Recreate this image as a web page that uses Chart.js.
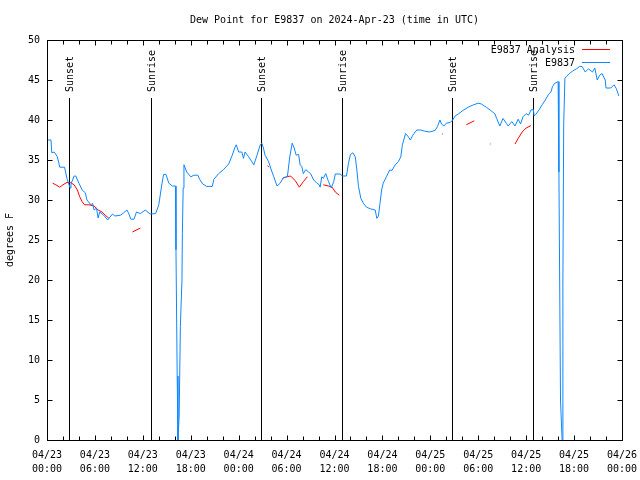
<!DOCTYPE html>
<html><head><meta charset="utf-8">
<script src="https://cdn.jsdelivr.net/npm/chart.js@4.4.1/dist/chart.umd.min.js"></script>
<style>html,body{margin:0;padding:0;background:#fff}#wrap{width:640px;height:480px}</style>
</head><body><div id="wrap"><canvas id="c" width="640" height="480"></canvas></div>
<script>
const titleText = 'Dew Point for E9837 on 2024-Apr-23 (time in UTC)';
const yTitle = 'degrees F';
const seriesNames = ['E9837 Analysis', 'E9837'];
const xTickDates = ['04/23','04/23','04/23','04/23','04/24','04/24','04/24','04/24','04/25','04/25','04/25','04/25','04/26'];
const xTickTimes = ['00:00','06:00','12:00','18:00','00:00','06:00','12:00','18:00','00:00','06:00','12:00','18:00','00:00'];
const yTicks = [0,5,10,15,20,25,30,35,40,45,50];
const eventHours = [2.75, 13.0, 26.75, 37.0, 50.75, 60.9];
const eventLabels = ['Sunset','Sunrise','Sunset','Sunrise','Sunset','Sunrise'];

const blueHours = [0.1,0.5,0.6,0.9,1.3,1.6,2.2,2.5,2.9,3.0,3.4,3.6,4.0,4.4,4.8,5.0,5.5,5.7,5.9,6.2,6.4,6.6,7.1,7.6,8.2,8.5,9.2,9.6,10.0,10.2,10.5,10.9,11.2,11.7,12.3,12.9,13.6,14.0,14.4,14.6,14.9,15.25,15.7,16.1,16.15,16.3,16.4,16.55,16.7,16.9,16.95,17.05,17.15,17.5,18.0,18.4,18.9,19.1,19.5,20.0,20.7,20.9,21.5,22.1,22.75,23.2,23.5,23.7,24.0,24.4,24.6,24.8,25.25,25.9,26.3,26.7,26.9,27.1,27.3,27.75,28.0,28.4,28.8,29.2,29.6,30.1,30.4,30.7,30.95,31.2,31.5,31.7,31.9,32.1,32.4,32.75,33.0,33.4,33.8,34.1,34.2,34.4,34.6,34.9,35.25,35.6,35.9,36.1,36.7,37.0,37.5,37.75,38.0,38.3,38.6,38.8,39.0,39.3,39.6,40.0,40.5,41.1,41.3,41.5,41.7,41.9,42.1,42.5,42.9,43.2,43.6,44.0,44.3,44.5,44.9,45.25,45.5,45.8,46.3,46.8,47.3,47.9,48.6,48.9,49.2,49.4,49.7,50.0,50.5,50.8,51.1,51.5,52.1,52.75,53.4,54.0,54.4,55.0,55.5,56.1,56.3,56.7,57.1,57.5,57.75,58.2,58.6,59.0,59.3,59.6,60.0,60.3,60.6,60.9,61.0,61.2,61.6,62.0,62.4,62.8,63.1,63.3,63.6,64.0,64.1,64.3,64.5,64.6,64.7,64.85,65.0,65.4,65.8,66.3,66.7,67.0,67.4,67.8,68.3,68.6,68.9,69.2,69.5,69.9,70.0,70.6,71.0,71.3,71.6];
const blueValues = [37.5,37.5,35.9,36.0,35.4,34.1,34.1,32.7,31.5,32.0,33.0,33.0,32.1,31.25,30.9,30.0,29.4,29.6,28.75,29.0,27.75,28.5,28.1,27.5,28.25,28.0,28.1,28.4,28.75,28.4,27.6,27.6,28.5,28.3,28.75,28.25,28.3,29.4,32.1,33.2,33.2,32.1,31.75,31.75,23.8,8,0,3,14.2,20,25.8,31.5,34.4,33.5,32.9,33.1,33.1,32.6,32.0,31.7,31.7,32.6,33.3,33.8,34.5,35.6,36.5,36.9,36.0,36.0,35.2,36.0,35.4,34.4,35.6,36.9,37.1,36.5,35.6,34.8,34.0,32.9,31.75,32.1,32.8,32.9,35.4,37.1,36.5,35.6,35.7,34.4,34.2,33.3,33.8,33.5,33.3,32.5,32.1,31.9,31.6,32.9,32.7,33.3,32.3,31.5,32.3,33.25,33.25,33.0,33.0,34.6,35.7,35.9,35.4,33.75,31.7,30.2,29.6,29.1,28.9,28.75,27.7,28.0,29.6,31.25,32.1,32.9,33.75,33.7,34.4,34.8,35.4,36.9,38.3,37.9,37.5,38.1,38.75,38.75,38.6,38.5,38.7,39.2,40.0,39.5,39.25,39.6,39.7,40.0,40.5,40.75,41.2,41.6,41.9,42.1,42.0,41.6,41.25,40.75,40.2,39.25,40.2,39.6,39.25,39.8,39.25,40.1,39.5,40.4,40.8,40.6,41.25,41.3,40.5,40.7,41.25,41.9,42.5,43.2,43.5,44.2,44.6,44.8,33.5,5,0,20,39.4,45.2,45.4,45.8,46.1,46.4,46.7,46.7,46.0,46.4,46.0,46.5,45.0,45.6,45.8,45.0,44.0,44.0,44.4,43.9,43.0];

const redHours = [0.7,1.1,1.6,2.0,2.5,2.9,3.4,3.8,4.1,4.4,4.7,5.25,5.9,6.4,6.9,7.3,7.75,8.5,10.7,11.7,12.5,24.55,24.65,25.5,27.6,27.8,28.5,29.5,30.0,30.5,31.1,31.6,32.1,32.6,33.5,34.6,35.25,35.7,36.1,36.6,40.0,49.45,49.55,50.5,52.5,53.5,54.5,55.45,55.55,57.0,58.6,59.0,59.5,60.0,60.6];
const redValues = [32.1,31.9,31.6,31.9,32.2,32.2,31.9,31.25,30.4,29.8,29.4,29.4,29.25,28.75,28.5,28.1,27.7,null,26.0,26.5,null,33.5,33.5,null,34.3,34.1,null,32.7,32.9,33.0,32.4,31.6,32.3,32.9,null,31.9,31.75,31.6,31.0,30.6,null,38.25,38.25,null,39.4,39.9,null,37.0,37.0,null,37.0,37.7,38.5,39.0,39.3];

const FONT = "'DejaVu Sans Mono', 'Liberation Mono', monospace";
const BLUE = '#0f87ff';
const RED = '#ff0000';

const toPts = (xs, ys) => xs.map((x, i) => ({x: x, y: ys[i]}));

const decor = {
  id: 'decor',
  beforeDatasetsDraw(chart) {
    const ctx = chart.ctx, a = chart.chartArea, xs = chart.scales.x;
    ctx.save();
    ctx.strokeStyle = '#000'; ctx.lineWidth = 1;
    ctx.fillStyle = '#000';
    ctx.font = '10px ' + FONT;
    eventHours.forEach((h, i) => {
      const px = Math.round(xs.getPixelForValue(h)) + 0.5;
      ctx.beginPath(); ctx.moveTo(px, 98); ctx.lineTo(px, a.bottom); ctx.stroke();
      ctx.save();
      ctx.translate(px + 1, 92);
      ctx.rotate(-Math.PI / 2);
      ctx.textAlign = 'left'; ctx.textBaseline = 'middle';
      ctx.fillText(eventLabels[i], 0, 0);
      ctx.restore();
    });
    ctx.restore();
  },
  afterDraw(chart) {
    const ctx = chart.ctx, a = chart.chartArea, xs = chart.scales.x, ys = chart.scales.y;
    ctx.save();
    ctx.strokeStyle = '#000'; ctx.lineWidth = 1;
    const L = Math.round(a.left) + 0.5, R = Math.round(a.right) + 0.5, T = Math.round(a.top) + 0.5, B = Math.round(a.bottom) + 0.5;
    ctx.strokeRect(L, T, R - L, B - T);
    ctx.beginPath();
    xs.ticks.forEach(t => {
      const px = Math.round(xs.getPixelForValue(t.value)) + 0.5;
      const len = (t.value % 6 === 0) ? 5 : 4;
      ctx.moveTo(px, B); ctx.lineTo(px, B - len);
      ctx.moveTo(px, T); ctx.lineTo(px, T + len);
    });
    ys.ticks.forEach(t => {
      const py = Math.round(ys.getPixelForValue(t.value)) + 0.5;
      ctx.moveTo(L, py); ctx.lineTo(L + 5, py);
      ctx.moveTo(R, py); ctx.lineTo(R - 5, py);
    });
    ctx.stroke();
    ctx.fillStyle = '#000';
    ctx.font = '10px ' + FONT;
    ctx.textAlign = 'center'; ctx.textBaseline = 'middle';
    ctx.fillText(titleText, (a.left + a.right) / 2, 20);
    ctx.textAlign = 'right';
    const colors = [RED, BLUE];
    const ly = [50, 63];
    seriesNames.forEach((n, i) => {
      ctx.fillStyle = '#000';
      ctx.fillText(n, 575, ly[i]);
      ctx.strokeStyle = colors[i];
      ctx.beginPath(); ctx.moveTo(582, ly[i] - 0.5); ctx.lineTo(610, ly[i] - 0.5); ctx.stroke();
    });
    ctx.restore();
  }
};

new Chart(document.getElementById('c'), {
  type: 'line',
  data: {
    datasets: [
      {label: seriesNames[1], data: toPts(blueHours, blueValues), borderColor: BLUE, borderWidth: 1, pointRadius: 0, tension: 0, spanGaps: false},
      {label: seriesNames[0], data: toPts(redHours, redValues), borderColor: RED, borderWidth: 1, pointRadius: 0, tension: 0, spanGaps: false}
    ]
  },
  options: {
    responsive: false,
    animation: false,
    devicePixelRatio: 1,
    layout: {padding: {top: 40, right: 18, left: 0, bottom: 0}},
    plugins: {legend: {display: false}, title: {display: false}, tooltip: {enabled: false}},
    scales: {
      x: {
        type: 'linear', min: 0, max: 72,
        grid: {display: false, drawTicks: false},
        border: {display: false},
        afterFit: s => { s.height = 40; s.paddingRight = 0; s.paddingLeft = 0; },
        ticks: {
          stepSize: 2, autoSkip: false, maxRotation: 0, minRotation: 0, padding: 8,
          color: '#000', font: {family: FONT, size: 10, lineHeight: 1.4},
          callback: v => (v % 6 === 0) ? [xTickDates[v / 6], xTickTimes[v / 6]] : ''
        }
      },
      y: {
        type: 'linear', min: 0, max: 50,
        grid: {display: false, drawTicks: false},
        border: {display: false},
        afterFit: s => { s.width = 47; s.paddingTop = 0; s.paddingBottom = 0; },
        afterBuildTicks: s => { s.ticks = yTicks.map(v => ({value: v})); },
        ticks: {padding: 7, color: '#000', font: {family: FONT, size: 10}},
        title: {display: true, text: yTitle, color: '#000', font: {family: FONT, size: 10}, padding: {top: 4, bottom: 0}}
      }
    }
  },
  plugins: [decor]
});
</script></body></html>
